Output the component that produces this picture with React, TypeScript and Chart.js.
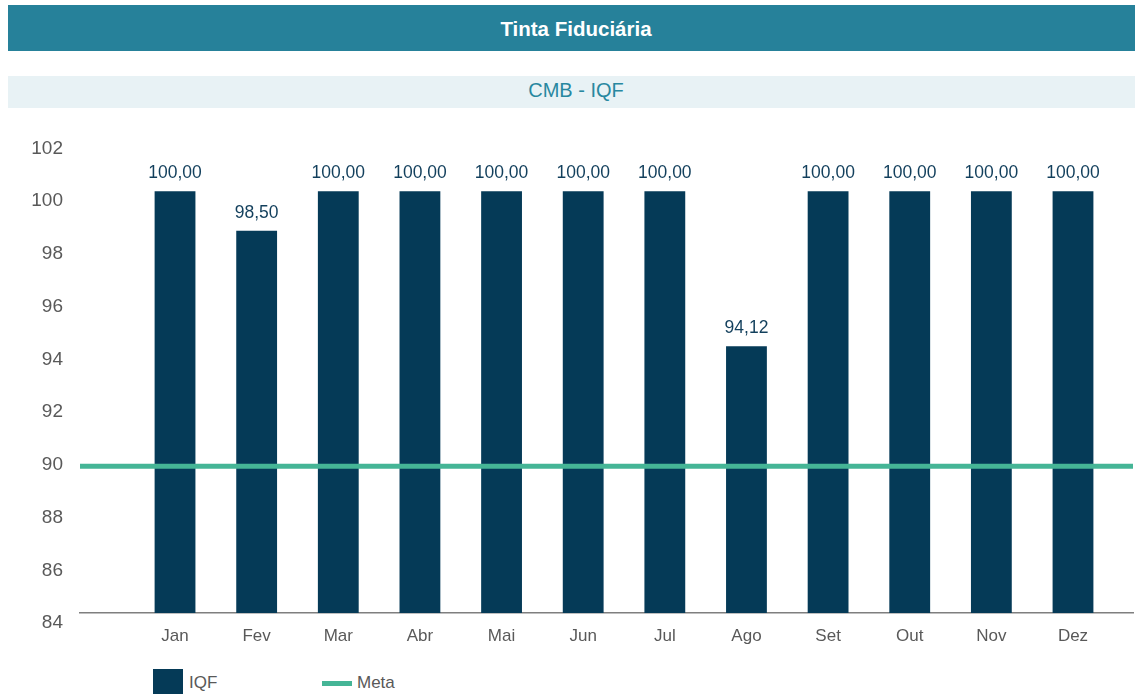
import React, { useEffect, useRef } from 'react';
import { Chart, registerables } from 'chart.js';

Chart.register(...registerables);

const TITLE = 'Tinta Fiduciária';
const SUBTITLE = 'CMB - IQF';
const MONTHS = ['Jan', 'Fev', 'Mar', 'Abr', 'Mai', 'Jun', 'Jul', 'Ago', 'Set', 'Out', 'Nov', 'Dez'];
const IQF = [100, 98.5, 100, 100, 100, 100, 100, 94.12, 100, 100, 100, 100];
const META = 90;
const Y_MIN = 84;
const Y_MAX = 102;
const Y_STEP = 2;
const X_MIN = -1.164;
const X_MAX = 11.735;
const META_AXIS_SHIFT = 0.43;

const FONT = '"Liberation Sans", Arial, Helvetica, sans-serif';
const NAVY = '#053a57';
const GREEN = '#45b596';
const GRAY = '#595959';

const dataLabels = {
  id: 'dataLabels',
  afterDatasetsDraw(chart: any) {
    const meta = chart.getDatasetMeta(1);
    const ds = chart.data.datasets[1];
    const ctx = chart.ctx;
    ctx.save();
    ctx.font = '17.5px ' + FONT;
    ctx.fillStyle = '#123f5c';
    ctx.textAlign = 'center';
    ctx.textBaseline = 'alphabetic';
    meta.data.forEach((el: any, i: number) => {
      const v = ds.data[i].y as number;
      ctx.fillText(v.toFixed(2).replace('.', ','), el.x, el.y - 13);
    });
    ctx.restore();
  },
};

function ChartCanvas() {
  const ref = useRef<HTMLCanvasElement | null>(null);
  useEffect(() => {
    if (!ref.current) return;
    const chart = new Chart(ref.current, {
      type: 'bar',
      data: {
        datasets: [
          {
            type: 'line',
            label: 'Meta',
            data: [
              { x: X_MIN, y: META },
              { x: X_MAX, y: META },
            ],
            borderColor: GREEN,
            backgroundColor: GREEN,
            borderWidth: 5,
            pointRadius: 0,
            yAxisID: 'y2',
            order: 0,
          } as any,
          {
            type: 'bar',
            label: 'IQF',
            data: MONTHS.map((m, i) => ({ x: i, y: IQF[i] })),
            backgroundColor: NAVY,
            borderWidth: 0,
            barPercentage: 0.5,
            categoryPercentage: 1,
            yAxisID: 'y',
            order: 1,
          } as any,
        ],
      },
      options: {
        animation: false,
        responsive: false,
        layout: { padding: { top: 26, right: 2, bottom: 0, left: 0 } },
        plugins: {
          legend: { display: false },
          tooltip: { enabled: false },
        },
        scales: {
          x: {
            type: 'linear',
            offset: false,
            min: X_MIN,
            max: X_MAX,
            grid: { display: false, drawTicks: false, offset: false },
            border: { display: true, color: '#7f7f7f', width: 1.5 },
            ticks: {
              stepSize: 1,
              includeBounds: false,
              autoSkip: false,
              maxRotation: 0,
              padding: 13,
              color: GRAY,
              font: { family: FONT, size: 17 },
              callback: (v: any) => {
                const n = Number(v);
                return Number.isInteger(n) && n >= 0 && n < MONTHS.length ? MONTHS[n] : null;
              },
            },
            afterFit: (s: any) => {
              s.height = 47;
            },
          } as any,
          y: {
            type: 'linear',
            min: Y_MIN,
            max: Y_MAX,
            grid: { display: false, drawTicks: false },
            border: { display: false },
            ticks: {
              stepSize: Y_STEP,
              padding: 17,
              labelOffset: 10,
              color: GRAY,
              font: { family: FONT, size: 19 },
            },
            afterFit: (s: any) => {
              s.width = 72;
            },
          } as any,
          y2: {
            type: 'linear',
            display: false,
            min: Y_MIN + META_AXIS_SHIFT,
            max: Y_MAX + META_AXIS_SHIFT,
          },
        },
      },
      plugins: [dataLabels],
    });
    return () => chart.destroy();
  }, []);
  return <canvas ref={ref} width={1127} height={550} style={{ width: 1127, height: 550, display: 'block' }} />;
}

export default function App() {
  return (
    <div
      style={{
        position: 'fixed',
        left: 0,
        top: 0,
        width: 1135,
        height: 694,
        overflow: 'hidden',
        background: '#ffffff',
        fontFamily: FONT,
      }}
    >
      <div style={{ position: 'absolute', left: 8, top: 5, width: 1136, height: 46, background: '#26819a' }} />
      <div
        style={{
          position: 'absolute',
          left: 8,
          top: 19,
          width: 1136,
          height: 20,
          lineHeight: '20px',
          fontSize: 20.5,
          fontWeight: 'bold',
          color: '#ffffff',
          textAlign: 'center',
        }}
      >
        {TITLE}
      </div>
      <div style={{ position: 'absolute', left: 8, top: 76, width: 1136, height: 32, background: '#e8f2f5' }} />
      <div
        style={{
          position: 'absolute',
          left: 8,
          top: 80,
          width: 1136,
          height: 20,
          lineHeight: '20px',
          fontSize: 20,
          color: '#2888a0',
          textAlign: 'center',
        }}
      >
        {SUBTITLE}
      </div>
      <div style={{ position: 'absolute', left: 8, top: 110 }}>
        <ChartCanvas />
      </div>
      <div style={{ position: 'absolute', left: 153, top: 669, width: 30, height: 30, background: NAVY }} />
      <div style={{ position: 'absolute', left: 189, top: 674, fontSize: 17, lineHeight: '17px', color: GRAY }}>IQF</div>
      <div style={{ position: 'absolute', left: 322, top: 681, width: 30, height: 5, background: GREEN }} />
      <div style={{ position: 'absolute', left: 357, top: 674, fontSize: 17, lineHeight: '17px', color: GRAY }}>Meta</div>
    </div>
  );
}
